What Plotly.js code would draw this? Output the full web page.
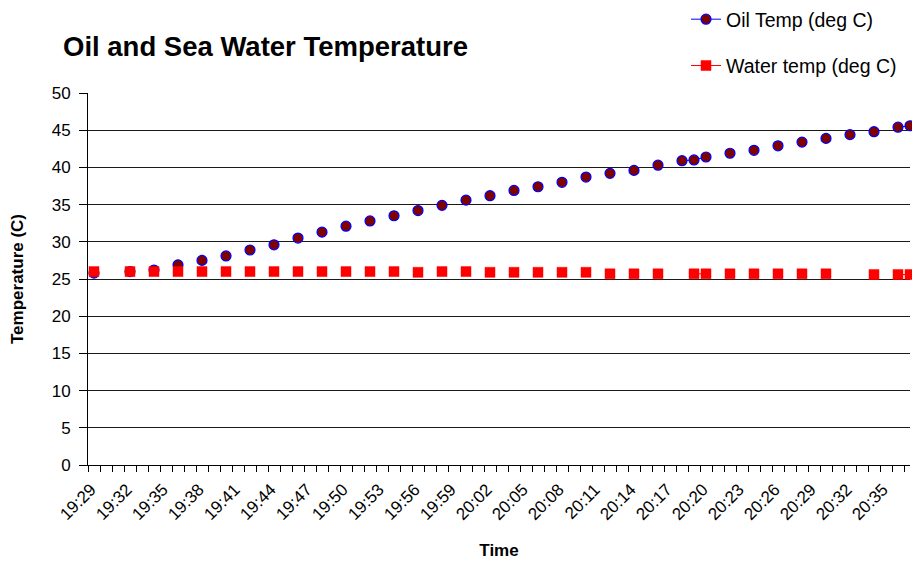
<!DOCTYPE html>
<html>
<head>
<meta charset="utf-8">
<script src="https://cdn.plot.ly/plotly-3.0.1.min.js"></script>
<style>
  html, body { margin: 0; padding: 0; background: #fff; }
  #chart { width: 912px; height: 561px; }
</style>
</head>
<body>
<div id="chart"></div>
<script>
// Oil temperature readings (deg C) by clock time
const oilTimes = ['19:29','19:32','19:34','19:36','19:38','19:40','19:42','19:44','19:46','19:48',
                  '19:50','19:52','19:54','19:56','19:58','20:00','20:02','20:04','20:06','20:08',
                  '20:10','20:12','20:14','20:16','20:18','20:19','20:20','20:22','20:24','20:26',
                  '20:28','20:30','20:32','20:34','20:36','20:37'];
const oilTemp  = [25.8, 26.0, 26.2, 26.9, 27.5, 28.1, 28.9, 29.6, 30.5, 31.3,
                  32.1, 32.8, 33.5, 34.2, 34.9, 35.6, 36.2, 36.9, 37.4, 38.0,
                  38.7, 39.2, 39.6, 40.3, 40.9, 41.0, 41.4, 41.9, 42.3, 42.9,
                  43.4, 43.9, 44.4, 44.8, 45.4, 45.6];

// Sea water temperature readings (deg C) by clock time
const waterTimes = ['19:29','19:32','19:34','19:36','19:38','19:40','19:42','19:44','19:46','19:48',
                    '19:50','19:52','19:54','19:56','19:58','20:00','20:02','20:04','20:06','20:08',
                    '20:10','20:12','20:14','20:16','20:19','20:20','20:22','20:24','20:26','20:28',
                    '20:30','20:34','20:36','20:37'];
const waterTemp  = [26.0, 26.0, 26.0, 26.0, 26.0, 26.0, 26.0, 26.0, 26.0, 26.0,
                    26.0, 26.0, 26.0, 25.9, 26.0, 26.0, 25.9, 25.9, 25.9, 25.9,
                    25.9, 25.7, 25.7, 25.7, 25.7, 25.7, 25.7, 25.7, 25.7, 25.7,
                    25.7, 25.6, 25.6, 25.6];

// Labelled times along the x axis
const tickLabels = ['19:29','19:32','19:35','19:38','19:41','19:44','19:47','19:50','19:53','19:56',
                    '19:59','20:02','20:05','20:08','20:11','20:14','20:17','20:20','20:23','20:26',
                    '20:29','20:32','20:35'];

const DAY = '2000-01-01 ';
const toDate = hm => DAY + hm;
const toMin = hm => { const p = hm.split(':'); return (+p[0]) * 60 + (+p[1]); };

// Readings are logged once a minute; a missing minute breaks the line.
function withGaps(times, values) {
  const xs = [], ys = [];
  for (let i = 0; i < times.length; i++) {
    if (i > 0 && toMin(times[i]) - toMin(times[i - 1]) > 1) { xs.push(null); ys.push(null); }
    xs.push(toDate(times[i])); ys.push(values[i]);
  }
  return { xs, ys };
}

const oil = withGaps(oilTimes, oilTemp);
const water = withGaps(waterTimes, waterTemp);

const FONT = 'Liberation Sans, Arial, sans-serif';

const traces = [
  {
    name: 'Oil Temp (deg C)',
    x: oil.xs, y: oil.ys,
    type: 'scatter', mode: 'lines+markers', connectgaps: false,
    line: { color: '#0000ff', width: 1 },
    marker: { symbol: 'circle', size: 10, color: '#800000', line: { color: '#0000ff', width: 1.2 } },
    legendgroup: 'oil', cliponaxis: false
  },
  {
    name: 'Water temp (deg C)',
    x: water.xs, y: water.ys,
    type: 'scatter', mode: 'lines+markers', connectgaps: false,
    line: { color: '#ff0000', width: 1 },
    marker: { symbol: 'square', size: 10, color: '#ff0000', line: { color: '#ff0000', width: 0.5 } },
    legendgroup: 'water', cliponaxis: false
  }
];

const layout = {
  width: 912, height: 561,
  paper_bgcolor: '#fff', plot_bgcolor: '#fff',
  margin: { l: 88, r: 2, t: 93, b: 96, autoexpand: false },
  font: { family: FONT, color: '#000' },
  title: {
    text: '<b>Oil and Sea Water Temperature</b>',
    font: { family: FONT, size: 27.5, color: '#000' },
    xref: 'container', yref: 'container',
    x: 63 / 912, xanchor: 'left',
    y: 1 - 46 / 561, yanchor: 'middle'
  },
  xaxis: {
    type: 'date',
    range: [toDate('19:28:30'), toDate('20:37:00')],
    tickmode: 'array',
    tickvals: tickLabels.map(toDate),
    ticktext: tickLabels,
    tickangle: -45,
    ticks: '',
    ticklabelstandoff: 7,
    ticklabelshift: -3,
    tickfont: { family: FONT, size: 17, color: '#000' },
    showgrid: false, zeroline: false,
    showline: true, linecolor: '#000', linewidth: 1,
    minor: { ticks: 'outside', ticklen: 6, tickcolor: '#000', tickwidth: 1,
             dtick: 60000, tick0: toDate('19:28:30'), showgrid: false },
    title: { text: '<b>Time</b>', font: { family: FONT, size: 17, color: '#000' }, standoff: 21 }
  },
  yaxis: {
    range: [0, 50], dtick: 5, tick0: 0,
    ticks: 'outside', ticklen: 8, tickcolor: '#000', tickwidth: 1,
    ticklabelstandoff: 5,
    tickfont: { family: FONT, size: 17, color: '#000' },
    showgrid: true, gridcolor: '#1a1a1a', gridwidth: 1,
    zeroline: false,
    showline: true, linecolor: '#000', linewidth: 1,
    title: { text: '<b>Temperature (C)</b>', font: { family: FONT, size: 17, color: '#000' }, standoff: 23 }
  },
  showlegend: true,
  legend: {
    x: (686 - 88) / 822, xanchor: 'left',
    y: 1 + 93 / 372, yanchor: 'top',
    traceorder: 'grouped', tracegroupgap: 18,
    font: { family: FONT, size: 19.5, color: '#000' },
    bgcolor: 'rgba(0,0,0,0)'
  }
};

Plotly.newPlot('chart', traces, layout, { displayModeBar: false, staticPlot: true });
</script>
</body>
</html>
